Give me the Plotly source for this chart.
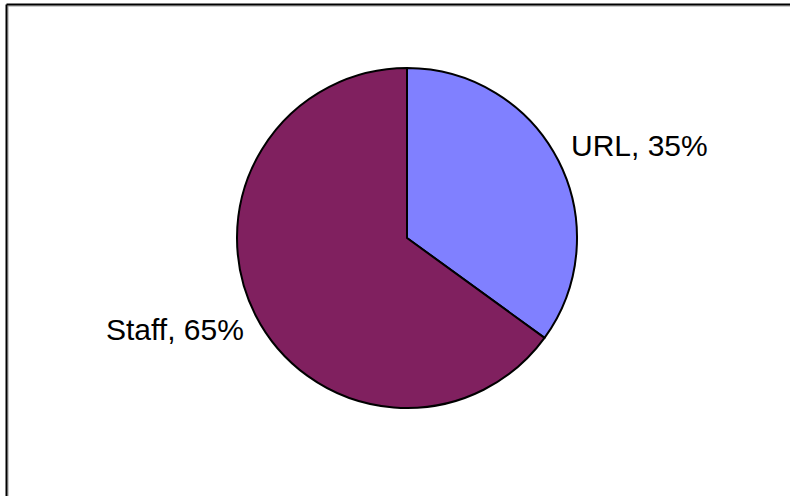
import math
import plotly.graph_objects as go

W, H = 790, 496
labels = ["URL", "Staff"]
values = [35, 65]
colors = ["#8080FF", "#80205F"]

cx, cy, r = 407, 238, 170

fig = go.Figure(go.Pie(
    labels=labels,
    values=values,
    sort=False,
    direction="clockwise",
    rotation=0,
    marker=dict(colors=colors, line=dict(color="#000000", width=2)),
    textinfo="none",
    hoverinfo="label+percent",
    showlegend=False,
    domain=dict(x=[(cx - r) / W, (cx + r) / W], y=[1 - (cy + r) / H, 1 - (cy - r) / H]),
))

def px(x):
    return x / W

def py(y):
    return 1 - y / H

# Labels placed outside the slices at their mid-angles
total = sum(values)
annotations = []
start = 0.0
for lab, val in zip(labels, values):
    frac = val / total
    mid = (start + frac / 2) * 2 * math.pi
    start += frac
    ex = cx + r * math.sin(mid)
    ey = cy - r * math.cos(mid)
    right_side = math.sin(mid) >= 0
    upper = math.cos(mid) >= 0
    annotations.append(dict(
        xref="paper", yref="paper",
        x=px(ex), y=py(ey),
        xshift=11 if right_side else -10,
        yshift=15 if upper else -14,
        xanchor="left" if right_side else "right",
        yanchor="middle",
        text=f"{lab}, {round(frac * 100)}%",
        showarrow=False,
        font=dict(family="Liberation Sans, Arial", size=30, color="#000000"),
    ))

shapes = [
    dict(type="line", xref="paper", yref="paper", x0=px(8), x1=1, y0=py(6), y1=py(6), line=dict(color="#9a9a9a", width=1)),
    dict(type="line", xref="paper", yref="paper", x0=px(8), x1=px(8), y0=py(6), y1=0, line=dict(color="#9a9a9a", width=1)),
    dict(type="line", xref="paper", yref="paper", x0=px(6.5), x1=1, y0=py(4.5), y1=py(4.5), line=dict(color="#000000", width=2)),
    dict(type="line", xref="paper", yref="paper", x0=px(6.5), x1=px(6.5), y0=py(4.5), y1=0, line=dict(color="#000000", width=2)),
]

fig.update_layout(
    width=W, height=H,
    margin=dict(l=0, r=0, t=0, b=0),
    paper_bgcolor="#FFFFFF",
    plot_bgcolor="#FFFFFF",
    shapes=shapes,
    annotations=annotations,
)

fig.write_html(
    "out.html",
    config={"displayModeBar": False},
    post_script="document.body.style.margin='0';document.body.style.overflow='hidden';",
)
